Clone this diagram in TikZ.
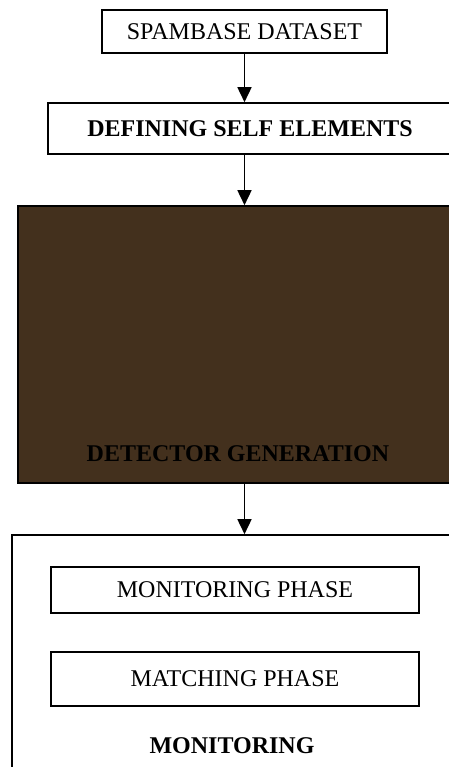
\documentclass[tikz,border=0pt]{standalone}
\usepackage{fontspec}
\setmainfont{Liberation Serif}
\usetikzlibrary{arrows.meta}
\definecolor{detbrown}{RGB}{67,48,29}

\begin{document}
\begin{tikzpicture}[x=0.5pt,y=-0.5pt,->,>={Triangle[width=7pt,length=7.5pt]},
                    line width=0.8pt,font=\fontsize{12}{14}\selectfont]
  \tikzstyle{every node}=[inner sep=0pt]
  \tikzstyle{block}=[draw,line width=0.8pt,fill=white]

  \clip (0,0) rectangle (449,767);

  \node[block,minimum width=142.5pt,minimum height=21.5pt] (s) at (244.5,31.5)  {SPAMBASE DATASET};
  \node[block,minimum width=202pt,minimum height=25.5pt]   (d) at (250,128.5)   {\textbf{DEFINING SELF ELEMENTS}};
  \node[block,fill=detbrown,minimum width=220pt,minimum height=138.5pt] (g) at (238,344.5) {};
  \node                                                    (gt) at (238,453.5)  {\textbf{DETECTOR GENERATION}};
  \node[block,minimum width=220pt,minimum height=132.5pt]  (m) at (232,667.5)   {};
  \node[block,minimum width=184pt,minimum height=23pt]     (p) at (235,590)     {MONITORING PHASE};
  \node[block,minimum width=184pt,minimum height=27pt]     (c) at (235,679)     {MATCHING PHASE};
  \node                                                    (mt) at (232,746)    {\textbf{MONITORING}};

  \path (s.south)         edge (s.south |- d.north)
        (s.south |- d.south) edge (s.south |- g.north)
        (s.south |- g.south) edge (s.south |- m.north);
\end{tikzpicture}
\end{document}
